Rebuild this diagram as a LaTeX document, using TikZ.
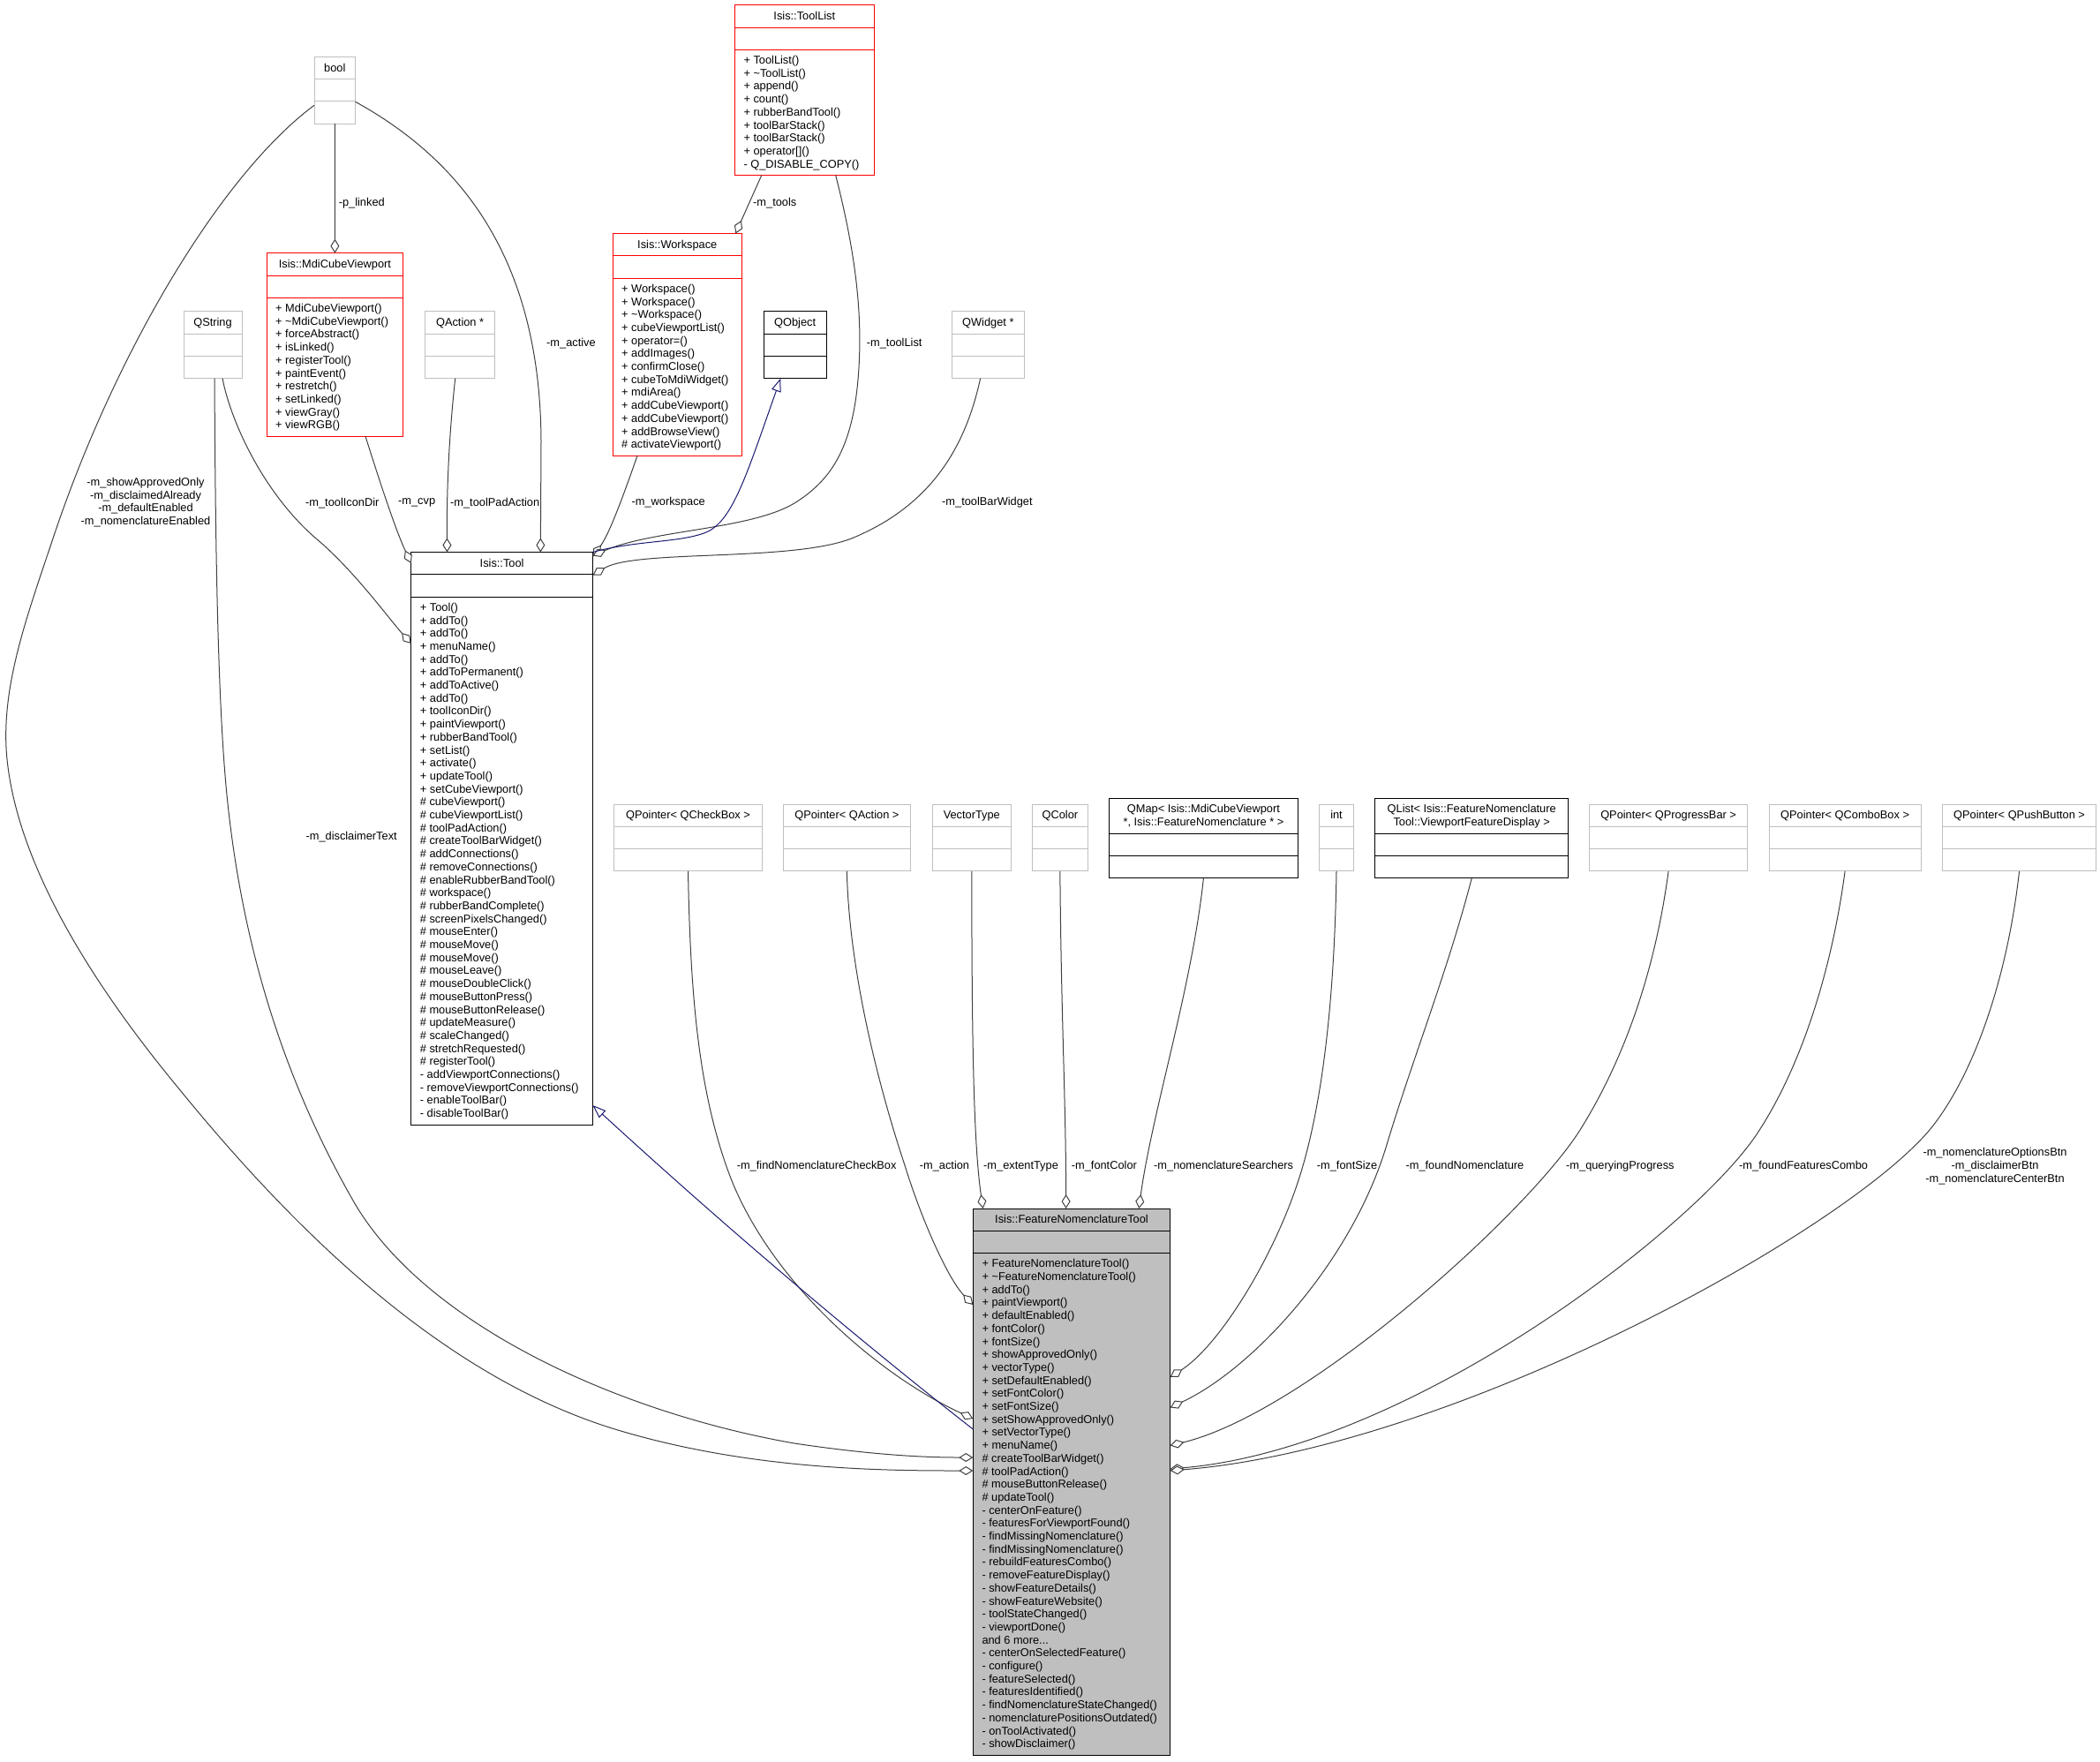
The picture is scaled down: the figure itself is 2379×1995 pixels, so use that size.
\documentclass[tikz,border=0pt]{standalone}
\usepackage{fontspec}
\setmainfont{Liberation Sans}
\usetikzlibrary{calc,arrows.meta}
\definecolor{edgegray}{HTML}{404040}
\definecolor{boxgray}{HTML}{BFBFBF}
\definecolor{inhblue}{HTML}{191970}
\newcommand\ms{\rule[-3.5pt]{0pt}{14pt}}
\newcommand\dfont{\fontsize{12.8pt}{14.7pt}\selectfont}
% #1 name, #2 left x, #3 top y, #4 width, #5 style prefix, #6 title height, #7 member lines, #8 title, #9 members
\newcommand\umlbox[9]{%
  \pgfmathsetmacro\umlMH{#7>0 ? #7*14.7+10 : 25.3}%
  \pgfmathsetmacro\umlHH{#6+25.3+\umlMH}%
  \node[#5box, minimum width=#4pt, minimum height=\umlHH pt, anchor=north west, inner sep=0pt, outer sep=0pt] (#1) at (#2,#3) {};
  \draw[#5sep] ($(#1.north west)+(0,#6)$) -- ($(#1.north east)+(0,#6)$);
  \draw[#5sep] ($(#1.north west)+(0,#6+25.3)$) -- ($(#1.north east)+(0,#6+25.3)$);
  \node[ttl, anchor=north] (#1-t) at ($(#1.north)+(0,6)$) {#8};
  \ifnum#7>0\relax
    \node[mem, anchor=north west] (#1-m) at ($(#1.north west)+(10,#6+25.3+5.5)$) {#9};
  \fi
}
\begin{document}
\begin{tikzpicture}[x=1pt, y=-1pt,
  graybox/.style={draw=boxgray, line width=1pt},
  graysep/.style={draw=boxgray, line width=1pt},
  redbox/.style={draw=red, line width=1pt},
  redsep/.style={draw=red, line width=1pt},
  blackbox/.style={draw=black, line width=1pt},
  blacksep/.style={draw=black, line width=1pt},
  fntbox/.style={draw=black, fill=boxgray, line width=1pt},
  fntsep/.style={draw=black, line width=1pt},
  ttl/.style={inner sep=0pt, align=center, font=\dfont},
  mem/.style={inner sep=0pt, align=left, font=\dfont},
  lbl/.style={inner sep=0pt, font=\dfont},
  mlbl/.style={inner sep=0pt, align=center, font=\dfont},
  comp/.style={draw=edgegray, line width=1pt, -{Diamond[length=16pt, width=10pt, fill=white]}},
  inh/.style={draw=inhblue, line width=1pt, -{Triangle[length=15pt, width=11pt, fill=white]}},
]
\useasboundingbox (0,0) rectangle (2379,1995);

% ---------- boxes ----------
\umlbox{bool}{356}{64.3}{46.5}{gray}{25.3}{0}{\ms bool}{}
\umlbox{qstring}{208}{352.7}{66}{gray}{25.3}{0}{\ms QString}{}
\umlbox{qaction}{481.8}{352.7}{78.6}{gray}{25.3}{0}{\ms QAction *}{}
\umlbox{qobject}{865.3}{352.7}{70.7}{black}{25.3}{0}{\ms QObject}{}
\umlbox{qwidget}{1078}{352.7}{82.7}{gray}{25.3}{0}{\ms QWidget *}{}

\umlbox{toollist}{832.3}{5.7}{158}{red}{25.3}{9}{\ms Isis::ToolList}{\ms + ToolList()\\\ms + \textasciitilde ToolList()\\\ms + append()\\\ms + count()\\\ms + rubberBandTool()\\\ms + toolBarStack()\\\ms + toolBarStack()\\\ms + operator[]()\\\ms - Q\_DISABLE\_COPY()}

\umlbox{mdi}{302}{286.7}{154.8}{red}{25.3}{10}{\ms Isis::MdiCubeViewport}{\ms + MdiCubeViewport()\\\ms + \textasciitilde MdiCubeViewport()\\\ms + forceAbstract()\\\ms + isLinked()\\\ms + registerTool()\\\ms + paintEvent()\\\ms + restretch()\\\ms + setLinked()\\\ms + viewGray()\\\ms + viewRGB()}

\umlbox{ws}{694}{264.5}{146.5}{red}{25.3}{13}{\ms Isis::Workspace}{\ms + Workspace()\\\ms + Workspace()\\\ms + \textasciitilde Workspace()\\\ms + cubeViewportList()\\\ms + operator=()\\\ms + addImages()\\\ms + confirmClose()\\\ms + cubeToMdiWidget()\\\ms + mdiArea()\\\ms + addCubeViewport()\\\ms + addCubeViewport()\\\ms + addBrowseView()\\\ms \# activateViewport()}

\umlbox{tool}{465.7}{625.5}{205.8}{black}{25.3}{40}{\ms Isis::Tool}{\ms + Tool()\\\ms + addTo()\\\ms + addTo()\\\ms + menuName()\\\ms + addTo()\\\ms + addToPermanent()\\\ms + addToActive()\\\ms + addTo()\\\ms + toolIconDir()\\\ms + paintViewport()\\\ms + rubberBandTool()\\\ms + setList()\\\ms + activate()\\\ms + updateTool()\\\ms + setCubeViewport()\\\ms \# cubeViewport()\\\ms \# cubeViewportList()\\\ms \# toolPadAction()\\\ms \# createToolBarWidget()\\\ms \# addConnections()\\\ms \# removeConnections()\\\ms \# enableRubberBandTool()\\\ms \# workspace()\\\ms \# rubberBandComplete()\\\ms \# screenPixelsChanged()\\\ms \# mouseEnter()\\\ms \# mouseMove()\\\ms \# mouseMove()\\\ms \# mouseLeave()\\\ms \# mouseDoubleClick()\\\ms \# mouseButtonPress()\\\ms \# mouseButtonRelease()\\\ms \# updateMeasure()\\\ms \# scaleChanged()\\\ms \# stretchRequested()\\\ms \# registerTool()\\\ms - addViewportConnections()\\\ms - removeViewportConnections()\\\ms - enableToolBar()\\\ms - disableToolBar()}

\umlbox{qcheck}{695.3}{911}{168.4}{gray}{25.3}{0}{\ms QPointer< QCheckBox >}{}
\umlbox{qpact}{887.4}{911}{143.9}{gray}{25.3}{0}{\ms QPointer< QAction >}{}
\umlbox{vtype}{1056.2}{911}{89.2}{gray}{25.3}{0}{\ms VectorType}{}
\umlbox{qcolor}{1169.5}{911}{62.7}{gray}{25.3}{0}{\ms QColor}{}
\umlbox{qmap}{1256}{904}{214.8}{black}{40.3}{0}{\ms QMap< Isis::MdiCubeViewport\\\ms *, Isis::FeatureNomenclature * >}{}
\umlbox{int}{1494.2}{911}{39.6}{gray}{25.3}{0}{\ms int}{}
\umlbox{qlist}{1557.5}{904}{219.4}{black}{40.3}{0}{\ms QList< Isis::FeatureNomenclature\\\ms Tool::ViewportFeatureDisplay >}{}
\umlbox{qprog}{1800.5}{911}{179.2}{gray}{25.3}{0}{\ms QPointer< QProgressBar >}{}
\umlbox{qcombo}{2004}{911}{172.2}{gray}{25.3}{0}{\ms QPointer< QComboBox >}{}
\umlbox{qpush}{2200.2}{911}{174.7}{gray}{25.3}{0}{\ms QPointer< QPushButton >}{}

\umlbox{fnt}{1102.3}{1369}{223.4}{fnt}{25.3}{38}{\ms Isis::FeatureNomenclatureTool}{\ms + FeatureNomenclatureTool()\\\ms + \textasciitilde FeatureNomenclatureTool()\\\ms + addTo()\\\ms + paintViewport()\\\ms + defaultEnabled()\\\ms + fontColor()\\\ms + fontSize()\\\ms + showApprovedOnly()\\\ms + vectorType()\\\ms + setDefaultEnabled()\\\ms + setFontColor()\\\ms + setFontSize()\\\ms + setShowApprovedOnly()\\\ms + setVectorType()\\\ms + menuName()\\\ms \# createToolBarWidget()\\\ms \# toolPadAction()\\\ms \# mouseButtonRelease()\\\ms \# updateTool()\\\ms - centerOnFeature()\\\ms - featuresForViewportFound()\\\ms - findMissingNomenclature()\\\ms - findMissingNomenclature()\\\ms - rebuildFeaturesCombo()\\\ms - removeFeatureDisplay()\\\ms - showFeatureDetails()\\\ms - showFeatureWebsite()\\\ms - toolStateChanged()\\\ms - viewportDone()\\\ms and 6 more...\\\ms - centerOnSelectedFeature()\\\ms - configure()\\\ms - featureSelected()\\\ms - featuresIdentified()\\\ms - findNomenclatureStateChanged()\\\ms - nomenclaturePositionsOutdated()\\\ms - onToolActivated()\\\ms - showDisclaimer()}

% ---------- connectors ----------
\draw[comp] (bool.south) -- (mdi.north);
\draw[comp] ($(toollist.south west)+(30.4,0)$) -- ($(ws.north east)+(-7.2,0)$);
\draw[comp] ($(bool.east)+(0,13)$) .. controls (520,180) and (612,290) .. (613,500) -- ($(tool.north west)+(146.6,0)$);
\draw[comp] ($(mdi.south west)+(112,0)$) .. controls (430,545) and (448,600) .. ($(tool.north west)+(0,12.5)$);
\draw[comp] ($(qaction.south)+(-5.4,0)$) .. controls (508,500) and (506,560) .. ($(tool.north west)+(40.8,0)$);
\draw[comp] ($(qstring.south)+(11,0)$) .. controls (262,480) and (300,560) .. (358,610) .. controls (400,645) and (440,700) .. ($(tool.north west)+(0,103.5)$);
\draw[comp] ($(ws.south west)+(28,0)$) .. controls (705,565) and (690,605) .. ($(tool.north east)+(0,5)$);
\draw[comp] ($(toollist.south west)+(114.4,0)$) .. controls (970,290) and (978,360) .. (972,430) .. controls (965,510) and (940,545) .. (900,570) .. controls (850,600) and (740,600) .. ($(tool.north east)+(0,4)$);
\draw[comp] ($(qwidget.south)+(-8.7,0)$) .. controls (1095,500) and (1060,570) .. (967,609) .. controls (900,637) and (720,622) .. ($(tool.north east)+(0,26)$);
\draw[inh] (tool.north east) .. controls (720,612) and (770,615) .. (800,603) .. controls (830,590) and (845,540) .. ($(qobject.south west)+(19,0)$);

\draw[comp] ($(bool.west)+(0,17)$) .. controls (250,198) and (130,400) .. (60,610) .. controls (30,700) and (0,780) .. (8,860) .. controls (16,940) and (60,1060) .. (200,1230) .. controls (330,1390) and (500,1560) .. (700,1620) .. controls (850,1665) and (1000,1666) .. ($(fnt.north west)+(0,297)$);
\draw[comp] ($(qstring.south)+(2,0)$) .. controls (244,600) and (246,800) .. (258,910) .. controls (275,1070) and (320,1220) .. (400,1360) .. controls (480,1500) and (700,1600) .. (900,1635) .. controls (1000,1650) and (1060,1651) .. ($(fnt.north west)+(0,282)$);
\draw[comp] (qcheck.south) .. controls (782,1120) and (790,1240) .. (830,1340) .. controls (880,1460) and (1000,1560) .. ($(fnt.north west)+(0,238)$);
\draw[comp] (qpact.south) .. controls (962,1100) and (995,1230) .. (1025,1320) .. controls (1045,1385) and (1075,1450) .. ($(fnt.north west)+(0,109)$);
\draw[comp] (vtype.south) .. controls (1101,1150) and (1102,1290) .. ($(fnt.north west)+(11.3,0)$);
\draw[comp] (qcolor.south) .. controls (1202,1150) and (1207.6,1250) .. ($(fnt.north west)+(105.3,0)$);
\draw[comp] (qmap.south) .. controls (1350,1120) and (1305,1260) .. ($(fnt.north west)+(187.9,0)$);
\draw[comp] (int.south) .. controls (1512,1120) and (1500,1250) .. (1470,1340) .. controls (1440,1430) and (1380,1525) .. ($(fnt.north east)+(0,191)$);
\draw[comp] (qlist.south) .. controls (1640,1100) and (1600,1200) .. (1570,1300) .. controls (1530,1430) and (1420,1550) .. ($(fnt.north east)+(0,225.5)$);
\draw[comp] (qprog.south) .. controls (1875,1100) and (1840,1200) .. (1790,1280) .. controls (1730,1375) and (1480,1600) .. ($(fnt.north east)+(0,268.5)$);
\draw[comp] (qcombo.south) .. controls (2075,1100) and (2040,1210) .. (1990,1285) .. controls (1920,1390) and (1600,1640) .. ($(fnt.north east)+(0,295)$);
\draw[comp] (qpush.south) .. controls (2275,1100) and (2240,1210) .. (2190,1275) .. controls (2100,1390) and (1650,1640) .. ($(fnt.north east)+(0,297)$);
\draw[inh] ($(fnt.north west)+(0,250)$) .. controls (950,1500) and (800,1370) .. ($(tool.south east)+(0,-22)$);

% ---------- labels ----------
\node[lbl, anchor=west] (l-plinked) at (383.6,230.3) {-p\_linked};
\node[lbl, anchor=west] (l-tools) at (853,230.3) {-m\_tools};
\node[lbl, anchor=west] (l-active) at (619,389.3) {-m\_active};
\node[lbl, anchor=west] (l-toollist) at (981.7,389.3) {-m\_toolList};
\node[lbl, anchor=west] (l-iconDir) at (346,569.8) {-m\_toolIconDir};
\node[lbl, anchor=west] (l-cvp) at (451,569.8) {-m\_cvp};
\node[lbl, anchor=west] (l-padAction) at (510,569.8) {-m\_toolPadAction};
\node[lbl, anchor=west] (l-workspace) at (715.4,569.3) {-m\_workspace};
\node[lbl, anchor=west] (l-toolBarWidget) at (1067,569.3) {-m\_toolBarWidget};
\node[mlbl] (l-bools) at (165,569.2) {-m\_showApprovedOnly\\-m\_disclaimedAlready\\-m\_defaultEnabled\\-m\_nomenclatureEnabled};
\node[lbl, anchor=west] (l-disclaimer) at (346.4,948.4) {-m\_disclaimerText};
\node[lbl, anchor=west] (l-checkbox) at (834.6,1321) {-m\_findNomenclatureCheckBox};
\node[lbl, anchor=west] (l-action) at (1041.7,1321) {-m\_action};
\node[lbl, anchor=west] (l-extent) at (1114,1321) {-m\_extentType};
\node[lbl, anchor=west] (l-fontColor) at (1213.7,1321) {-m\_fontColor};
\node[lbl, anchor=west] (l-searchers) at (1307,1321) {-m\_nomenclatureSearchers};
\node[lbl, anchor=west] (l-fontSize) at (1491.7,1321) {-m\_fontSize};
\node[lbl, anchor=west] (l-found) at (1592.4,1321) {-m\_foundNomenclature};
\node[lbl, anchor=west] (l-progress) at (1774,1321) {-m\_queryingProgress};
\node[lbl, anchor=west] (l-combo) at (1970,1321) {-m\_foundFeaturesCombo};
\node[mlbl] (l-buttons) at (2260,1321) {-m\_nomenclatureOptionsBtn\\-m\_disclaimerBtn\\-m\_nomenclatureCenterBtn};
\end{tikzpicture}
\end{document}
